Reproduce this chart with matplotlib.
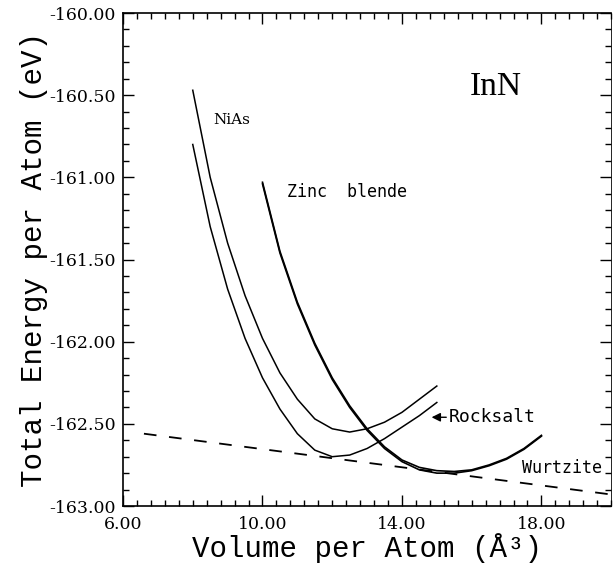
import matplotlib
matplotlib.use("Agg")
import matplotlib.pyplot as plt
from matplotlib.ticker import MultipleLocator, FormatStrFormatter

# NiAs (upper curve)
nias_v = [8.0, 8.5, 9.0, 9.5, 10.0, 10.5, 11.0, 11.5, 12.0, 12.5, 13.0, 13.5, 14.0, 14.5, 15.0]
nias_e = [-160.47, -161.00, -161.40, -161.72, -161.98, -162.19, -162.35, -162.47,
          -162.53, -162.55, -162.53, -162.49, -162.43, -162.35, -162.27]

# Rocksalt (lower of the two short curves)
rs_v = [8.0, 8.5, 9.0, 9.5, 10.0, 10.5, 11.0, 11.5, 12.0, 12.5, 13.0, 13.5, 14.0, 14.5, 15.0]
rs_e = [-160.80, -161.30, -161.68, -161.98, -162.22, -162.41, -162.56, -162.66,
        -162.70, -162.69, -162.65, -162.59, -162.52, -162.45, -162.37]

# Zinc blende and wurtzite, almost on top of each other
zb_v = [10.0, 10.5, 11.0, 11.5, 12.0, 12.5, 13.0, 13.5, 14.0, 14.5, 15.0, 15.5, 16.0,
        16.5, 17.0, 17.5, 18.0]
zb_e = [-161.03, -161.45, -161.76, -162.01, -162.22, -162.39, -162.53, -162.64, -162.72,
        -162.765, -162.785, -162.79, -162.78, -162.75, -162.71, -162.65, -162.57]
wz_e = [-161.04, -161.46, -161.77, -162.02, -162.23, -162.40, -162.54, -162.65, -162.73,
        -162.78, -162.80, -162.80, -162.785, -162.755, -162.715, -162.655, -162.575]

# common tangent (dashed)
tan_v = [6.6, 20.0]
tan_e = [-162.56, -162.93]

xticks = [6, 10, 14, 18]

fig = plt.figure(figsize=(6.13, 5.66), dpi=100)
ax = fig.add_axes([0.2007, 0.106, 0.7963, 0.871])

ax.plot(nias_v, nias_e, color="black", lw=1.1)
ax.plot(rs_v, rs_e, color="black", lw=1.1)
ax.plot(zb_v, zb_e, color="black", lw=1.2)
ax.plot(zb_v, wz_e, color="black", lw=1.2)
ax.plot(tan_v, tan_e, color="black", lw=1.3, dashes=(7, 7))

ax.set_xlim(6, 20)
ax.set_ylim(-163, -160)
ax.set_xticks(xticks)
ax.xaxis.set_minor_locator(MultipleLocator(0.4))
ax.yaxis.set_major_locator(MultipleLocator(0.5))
ax.yaxis.set_minor_locator(MultipleLocator(0.1))
ax.xaxis.set_major_formatter(FormatStrFormatter("%.2f"))
ax.yaxis.set_major_formatter(FormatStrFormatter("%.2f"))
ax.tick_params(which="both", direction="in", top=True, right=True, width=1)
ax.tick_params(which="major", length=8)
ax.tick_params(which="minor", length=4)
ax.tick_params(axis="x", pad=7)
ax.tick_params(axis="y", pad=5)
for lab in ax.get_xticklabels() + ax.get_yticklabels():
    lab.set_family("DejaVu Serif")
    lab.set_fontsize(12.5)
for s in ax.spines.values():
    s.set_linewidth(1.2)
ax.spines["right"].set_linewidth(0.6)

ax.set_xlabel("Volume per Atom (Å³)", family="Liberation Mono", fontsize=21, labelpad=0)
ax.set_ylabel("Total Energy per Atom (eV)", family="Liberation Mono", fontsize=21, labelpad=1)

ax.text(16.7, -160.45, "InN", family="Liberation Serif", fontsize=24, ha="center", va="center")
ax.text(8.6, -160.65, "NiAs", family="DejaVu Serif", fontsize=11, ha="left", va="center")
ax.text(10.7, -161.09, "Zinc  blende", family="DejaVu Sans Mono", fontsize=12, ha="left", va="center")
ax.annotate("Rocksalt", xy=(14.85, -162.46), xytext=(15.35, -162.46),
            family="DejaVu Sans Mono", fontsize=13, ha="left", va="center",
            arrowprops=dict(arrowstyle="-|>", color="black", lw=1, shrinkA=0, shrinkB=0))
ax.text(17.45, -162.77, "Wurtzite", family="DejaVu Sans Mono", fontsize=12, ha="left", va="center")

fig.savefig("out.png", dpi=100)
